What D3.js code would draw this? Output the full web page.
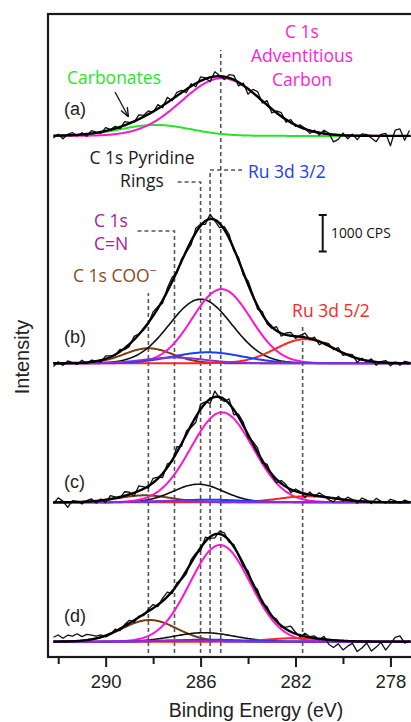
<!DOCTYPE html>
<html>
<head>
<meta charset="utf-8">
<script src="https://cdn.jsdelivr.net/npm/d3@7"></script>
<style>
  body { margin: 0; background: #fff; }
</style>
</head>
<body>
<div id="chart"></div>
<script>
// peak order: carbonates, C 1s COO-, C 1s C=N, pyridine rings, Ru 3d 3/2, adventitious C, Ru 3d 5/2
const peakColors = ['#25e625', '#7a3a14', '#8a2fd8', '#111111', '#1d3cff', '#ff14d2', '#ff2424'];
const drawOrder = [0, 1, 3, 5, 6, 4, 2];

const panelLabels = ['(a)', '(b)', '(c)', '(d)'];
const panelOffsets = [13860, 7630, 3820, 0];   // CPS offset of each spectrum

// fitted peaks (binding energy eV, height CPS, FWHM eV)
const centerA = [287.9, 288.2, 287.1, 286.0, 285.7, 285.10, 281.6];
const heightA = [300, 0, 0, 0, 0, 1580, 0];
const fwhmA   = [3.5, 2.4, 3.0, 3.1, 3.5, 4.0, 2.9];

const centerB = [287.9, 288.2, 287.1, 286.0, 285.7, 285.12, 281.6];
const heightB = [0, 410, 155, 1755, 300, 2030, 660];
const fwhmB   = [3.5, 2.4, 3.0, 3.1, 3.5, 2.9, 2.9];

const centerC = [287.9, 288.35, 287.1, 286.1, 285.7, 285.1, 281.5];
const heightC = [0, 190, 30, 495, 70, 2465, 165];
const fwhmC   = [3.5, 2.6, 3.0, 2.5, 3.5, 3.08, 2.8];

const centerD = [287.9, 288.15, 287.1, 285.85, 285.7, 285.18, 282.0];
const heightD = [0, 595, 30, 245, 55, 2650, 95];
const fwhmD   = [3.5, 2.7, 3.0, 3.0, 3.5, 3.0, 2.8];

// raw data minus fit (CPS), every 0.2 eV from 292.2 eV down to 277.2 eV
const residA = [-60, 40, -90, 30, 70, -30, 50, -60, 80, 20,
                -40, 90, 10, 60, -50, 100, 30, -20, 120, 40,
                90, -30, 110, -60, 140, -40, 100, 60, -90, 70,
                -90, 110, 30, -120, 130, 20, -80, 90, 120, -100,
                60, -150, 90, 140, -60, 120, -110, 50, 100, -70,
                80, -40, 60, 20, -80, 40, -60, 90, 30, -200,
                -120, 60, -90, 40, -110, 50, 30, -60, -160, 40,
                70, -270, 160, 190, -120, 150];
const residB = [-90, 40, -60, 60, 20, -40, 70, -30, 50, 10,
                -50, 80, 30, -20, 60, -40, -60, 90, 20, -30,
                -40, 110, 50, -80, 90, 120, -50, 60, -40, -100,
                120, 40, -90, 130, -30, -120, 80, 110, -60, 70,
                -70, 100, 40, -90, 80, -60, -40, 110, -80, 50,
                90, -60, 40, 120, -30, 70, -90, 30, 60, -40,
                80, -70, 20, 60, -110, 40, -30, 70, -90, 20,
                60, -80, 30, -60, 50, 20];
const residC = [-40, 120, 30, -140, 40, 20, -60, 30, 70, -60,
                40, -80, 90, 30, -40, 110, 60, -90, 140, 50,
                -60, 120, 40, -110, 100, -40, 150, -80, 90, -60,
                -150, 140, 40, -120, 160, -30, -60, 130, -140, 80,
                90, -90, 60, 120, -70, 100, -40, -100, 80, 60,
                -90, 60, 30, -110, 70, -40, 90, 20, -60, -100,
                70, -40, 80, 30, -60, 90, 40, -50, 100, 20,
                -30, 80, 40, -20, 60, 10];
const residD = [120, 180, 90, 170, 140, 200, 110, 160, 120, 60,
                60, -40, -20, 60, -50, 40, 80, -60, 30, -40,
                60, 100, -50, 80, 120, -60, 70, -30, -80, 90,
                50, -90, 120, -40, -100, 80, 90, -50, 60, -30,
                -70, 80, -40, 90, -60, 70, -20, 60, -40, 50,
                150, 40, -50, 90, 20, 60, -30, 80, -120, -200,
                -90, -250, -140, -60, -280, -180, -40, -260, -150, -20,
                -230, -60, 120, 160, -40, 30];

// dashed reference lines (eV)
const markerEnergy = [288.2, 287.1, 286.0, 285.6, 285.15, 281.7];

const xTicksMajor = [290, 286, 282, 278];
const xTicksMinor = [292, 288, 284, 280, 276];

const scaleBarCps = 1000;

const panels = [
  {centers: centerA, heights: heightA, fwhm: fwhmA, resid: residA},
  {centers: centerB, heights: heightB, fwhm: fwhmB, resid: residB},
  {centers: centerC, heights: heightC, fwhm: fwhmC, resid: residC},
  {centers: centerD, heights: heightD, fwhm: fwhmD, resid: residD}
];

const svg = d3.select('#chart').append('svg')
  .attr('width', 411)
  .attr('height', 722)
  .style('background', '#fff');

const x = d3.scaleLinear().domain([292.43, 274.9]).range([48, 464]);
const y = d3.scaleLinear().domain([-420, 17200]).range([657, 14]);

const gauss = (e, c, h, w) => h * Math.exp(-4 * Math.LN2 * (e - c) * (e - c) / (w * w));
const fineE = d3.range(292.2, 277.15, -0.05);
const rawE = residA.map((d, i) => 292.2 - 0.2 * i);

// dashed guide lines (top ends and leaders are layout)
const markerTop = [293, 231, 182, 170, 50, 325];
const markerLeader = [null, 137, 175, 242, null, null];
const dashG = svg.append('g')
  .attr('stroke', '#555')
  .attr('stroke-width', 1.6)
  .attr('stroke-dasharray', '4,3')
  .attr('fill', 'none');
markerEnergy.forEach((e, i) => {
  let d = `M${x(e)},653 V${markerTop[i]}`;
  if (markerLeader[i] !== null) d += ` H${markerLeader[i]}`;
  dashG.append('path').attr('d', d);
});

// spectra
panels.forEach((p, k) => {
  const off = panelOffsets[k];
  const comps = drawOrder
    .filter(j => p.heights[j] > 0)
    .map(j => ({c: p.centers[j], h: p.heights[j], w: p.fwhm[j], color: peakColors[j]}));
  const total = e => d3.sum(comps, d => gauss(e, d.c, d.h, d.w));
  const line = d3.line().x(d => x(d[0])).y(d => y(d[1] + off));

  comps.forEach(cp => {
    svg.append('path')
      .datum(fineE.map(e => [e, gauss(e, cp.c, cp.h, cp.w)]))
      .attr('d', line)
      .attr('fill', 'none')
      .attr('stroke', cp.color)
      .attr('stroke-width', cp.color === '#111111' ? 1.6 : 2);
  });

  svg.append('path')
    .datum(rawE.map((e, i) => [e, total(e) + p.resid[i]]))
    .attr('d', line)
    .attr('fill', 'none')
    .attr('stroke', '#111')
    .attr('stroke-width', 1.3)
    .attr('stroke-linejoin', 'round');

  svg.append('path')
    .datum(fineE.map(e => [e, total(e)]))
    .attr('d', line)
    .attr('fill', 'none')
    .attr('stroke', '#000')
    .attr('stroke-width', 2.4);
});

// frame
svg.append('rect')
  .attr('x', 48).attr('y', 14)
  .attr('width', 430).attr('height', 643)
  .attr('fill', 'none')
  .attr('stroke', '#1a1a1a')
  .attr('stroke-width', 2.2);

// x axis
const axMajor = svg.append('g')
  .attr('transform', 'translate(0,657)')
  .call(d3.axisBottom(x).tickValues(xTicksMajor).tickSize(10).tickSizeOuter(0).tickPadding(8).tickFormat(d3.format('d')));
axMajor.select('.domain').remove();
axMajor.selectAll('line').attr('stroke', '#1a1a1a').attr('stroke-width', 2);
axMajor.selectAll('text')
  .attr('font-family', '"Liberation Sans", Arial, sans-serif')
  .attr('font-size', 18.5)
  .attr('fill', '#222');

const axMinor = svg.append('g')
  .attr('transform', 'translate(0,657)')
  .call(d3.axisBottom(x).tickValues(xTicksMinor).tickSize(7).tickSizeOuter(0).tickFormat(''));
axMinor.select('.domain').remove();
axMinor.selectAll('line').attr('stroke', '#1a1a1a').attr('stroke-width', 2);

svg.append('text')
  .attr('x', 256).attr('y', 717)
  .attr('text-anchor', 'middle')
  .attr('font-family', '"Liberation Sans", Arial, sans-serif')
  .attr('font-size', 19.5)
  .attr('fill', '#222')
  .text('Binding Energy (eV)');

svg.append('text')
  .attr('transform', 'translate(29,357) rotate(-90)')
  .attr('text-anchor', 'middle')
  .attr('font-family', '"Liberation Sans", Arial, sans-serif')
  .attr('font-size', 20)
  .attr('fill', '#222')
  .text('Intensity');

// panel labels
const panelLabelY = [115, 343, 488, 622];
panelLabels.forEach((t, i) => {
  svg.append('text')
    .attr('x', 64).attr('y', panelLabelY[i])
    .attr('font-family', '"Liberation Sans", Arial, sans-serif')
    .attr('font-size', 18)
    .attr('fill', '#222')
    .text(t);
});

// annotations
const note = (lines, cx, y0, color, dy) => {
  lines.forEach((t, i) => {
    svg.append('text')
      .attr('x', cx).attr('y', y0 + i * dy)
      .attr('text-anchor', 'middle')
      .attr('font-family', '"Open Sans", sans-serif')
      .attr('font-size', 17.5)
      .attr('fill', color)
      .text(t);
  });
};
note(['C 1s', 'Adventitious', 'Carbon'], 302, 38, '#ff1ed2', 24);
note(['Carbonates'], 114, 84, '#28e628', 0);
note(['C 1s Pyridine', 'Rings'], 142, 164, '#1a1a1a', 23);
note(['C 1s', 'C=N'], 111, 227, '#a3239e', 23);
note(['Ru 3d 5/2'], 331, 317, '#f52a2a', 0);

svg.append('text')
  .attr('x', 248).attr('y', 178)
  .attr('font-family', '"Open Sans", sans-serif')
  .attr('font-size', 17.5)
  .attr('fill', '#1f3cf5')
  .text('Ru 3d 3/2');

const coo = svg.append('text')
  .attr('x', 73).attr('y', 282)
  .attr('font-family', '"Open Sans", sans-serif')
  .attr('font-size', 17.5)
  .attr('fill', '#8b4a22');
coo.append('tspan').text('C 1s COO');
coo.append('tspan').attr('dy', -7).attr('font-size', 12).text('\u2212');

// arrow to carbonates shoulder
svg.append('defs').append('marker')
  .attr('id', 'head')
  .attr('viewBox', '0 0 10 10')
  .attr('refX', 9).attr('refY', 5)
  .attr('markerWidth', 7).attr('markerHeight', 7)
  .attr('orient', 'auto')
  .append('path').attr('d', 'M0,1 L10,5 L0,9').attr('fill', 'none').attr('stroke', '#111').attr('stroke-width', 1.5);
svg.append('line')
  .attr('x1', 115).attr('y1', 92)
  .attr('x2', 128).attr('y2', 116)
  .attr('stroke', '#111')
  .attr('stroke-width', 1.3)
  .attr('marker-end', 'url(#head)');

// 1000 CPS scale bar, length from the intensity scale
const barX = 322.7;
const barTop = 215;
const barBottom = barTop + (y(0) - y(scaleBarCps));
svg.append('path')
  .attr('d', `M${barX - 4},${barTop} H${barX + 4} M${barX},${barTop} V${barBottom} M${barX - 4},${barBottom} H${barX + 4}`)
  .attr('stroke', '#111')
  .attr('stroke-width', 2)
  .attr('fill', 'none');
svg.append('text')
  .attr('x', 331).attr('y', 238)
  .attr('font-family', '"Open Sans", sans-serif')
  .attr('font-size', 13.8)
  .attr('fill', '#111')
  .text(scaleBarCps + ' CPS');
</script>
</body>
</html>
